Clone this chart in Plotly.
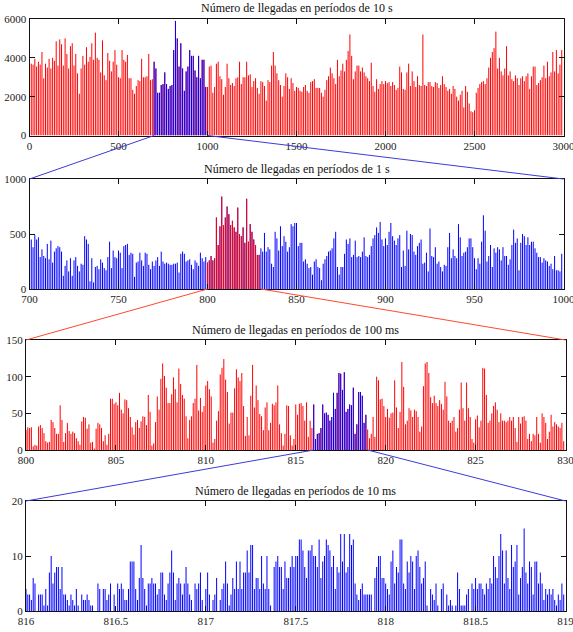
import numpy as np
import plotly.graph_objects as go

# ---------------- data ----------------
# Panel 1: arrivals per 10 s period, t = 0 .. 2990 s
p1_start, p1_step = 0, 10
p1_values = [
    4150, 3700, 3650, 3950, 3550, 3800, 3650, 4300, 2950, 3700,
    3500, 3950, 3450, 4000, 3850, 4850, 3600, 4950, 4700, 3600,
    5000, 4200, 3450, 4600, 4750, 3600, 4200, 3200, 2150, 3450,
    4100, 3650, 4550, 3800, 4050, 4750, 3900, 5300, 4000, 3900,
    3250, 4900, 3100, 2850, 4250, 3850, 3300, 3800, 4400, 3650,
    3000, 2950, 4400, 3900, 3800, 4150, 2950, 2950, 2350, 2150,
    2550, 2850, 2800, 3950, 3000, 3000, 3050, 4200, 2850, 2900,
    3800, 3450, 2200, 2200, 2600, 2650, 3250, 2650, 2400, 2550,
    2600, 4400, 5900, 5000, 3550, 4750, 3450, 2300, 3300, 3550,
    4400, 4100, 4100, 3350, 3000, 4100, 2950, 3900, 3900, 2500,
    2500, 3550, 3600, 2200, 2500, 3700, 3800, 3050, 2900, 2100,
    2500, 3700, 2950, 2600, 2700, 2550, 2950, 3000, 3800, 2650,
    3000, 3000, 3800, 3100, 3150, 2500, 2800, 2950, 2450, 2150,
    2800, 2750, 2550, 1800, 2850, 2750, 3600, 4300, 3600, 3200,
    2850, 2600, 2000, 2550, 3200, 3000, 2400, 2950, 2700, 2300,
    2500, 2450, 2300, 2250, 2500, 2600, 2300, 2200, 2750, 2800,
    2900, 2450, 2450, 2450, 2200, 2000, 2350, 2850, 3050, 3500,
    3200, 2950, 2650, 3900, 3050, 3350, 3700, 3300, 3900, 4350,
    5200, 4100, 2900, 3300, 3600, 3600, 3300, 3500, 3250, 3050,
    2950, 2800, 3750, 2550, 2250, 2900, 2400, 2650, 2800, 2650,
    2800, 2700, 2750, 2550, 2750, 2600, 2350, 2450, 3550, 3250,
    2400, 2350, 3250, 3700, 2550, 3300, 2800, 2500, 3050, 2600,
    2550, 5200, 2600, 2550, 2750, 2750, 2550, 2500, 2750, 2700,
    2450, 2600, 3050, 2650, 2500, 2300, 2400, 2150, 2550, 2400,
    2000, 1800, 2100, 2300, 1450, 2550, 2250, 1650, 1250, 1200,
    1300, 2200, 2450, 2650, 2750, 2800, 2650, 2950, 3500, 4000,
    4300, 4500, 5350, 3450, 4000, 3300, 3100, 3450, 4600, 3100,
    3300, 2900, 2800, 3100, 2950, 2600, 2950, 3050, 2800, 3050,
    3200, 2400, 3050, 3550, 3550, 2600, 2700, 2850, 3000, 3600,
    2950, 3800, 3050, 3250, 4300, 3300, 4400, 3200, 3650, 4400,
]
p1_zoom = (700, 1000)

# Panel 2: arrivals per 1 s period, t = 700 .. 999 s
p2_start, p2_step = 700, 1
p2_values = [
    320, 450, 380, 490, 450, 470, 290, 360, 300, 280,
    410, 270, 440, 240, 340, 370, 390, 380, 340, 120,
    210, 260, 160, 280, 120, 260, 290, 210, 160, 230,
    220, 480, 450, 410, 70, 280, 60, 200, 210, 180,
    270, 240, 190, 170, 290, 430, 190, 350, 290, 280,
    350, 330, 190, 390, 400, 410, 310, 330, 320, 110,
    240, 250, 330, 260, 210, 330, 320, 220, 180, 250,
    210, 260, 290, 210, 340, 250, 230, 240, 230, 220,
    220, 230, 230, 240, 150, 320, 340, 320, 250, 260,
    270, 220, 180, 260, 240, 210, 330, 280, 250, 290,
    240, 260, 300, 260, 280, 650, 400, 570, 840, 580,
    650, 750, 680, 580, 620, 560, 520, 740, 500, 480,
    560, 420, 820, 430, 590, 520, 450, 400, 310, 310,
    370, 340, 510, 340, 380, 360, 230, 200, 520, 460,
    350, 570, 390, 480, 430, 340, 380, 590, 570, 600,
    600, 390, 420, 420, 250, 270, 230, 190, 200, 130,
    250, 270, 200, 190, 80, 230, 270, 300, 340, 350,
    370, 460, 520, 200, 130, 200, 200, 320, 450, 410,
    460, 290, 310, 440, 290, 300, 290, 340, 470, 300,
    290, 310, 390, 460, 490, 560, 510, 610, 450, 390,
    460, 400, 520, 600, 480, 440, 400, 460, 490, 200,
    350, 210, 530, 360, 500, 490, 340, 310, 390, 420,
    450, 230, 240, 330, 160, 550, 300, 290, 380, 230,
    250, 200, 160, 220, 210, 380, 510, 280, 360, 300,
    280, 590, 470, 300, 330, 340, 380, 460, 460, 380,
    280, 180, 280, 230, 430, 670, 530, 250, 300, 400,
    200, 370, 330, 380, 360, 260, 380, 300, 300, 220,
    270, 400, 540, 420, 460, 170, 420, 500, 480, 400,
    470, 400, 430, 430, 370, 330, 290, 290, 240, 280,
    260, 250, 210, 230, 180, 300, 170, 170, 160, 320,
]
p2_zoom = (800, 830)

# Panel 3: arrivals per 100 ms period, t = 800.0 .. 829.9 s
p3_start, p3_step = 800, 0.1
p3_values = [
    27, 31, 30, 31, 5, 7, 6, 32, 34, 30,
    23, 12, 10, 11, 41, 38, 30, 22, 22, 61,
    41, 11, 23, 37, 26, 22, 25, 23, 16, 12,
    7, 39, 45, 44, 29, 35, 10, 11, 2, 29,
    37, 35, 30, 12, 20, 7, 22, 70, 70, 63,
    65, 61, 78, 55, 50, 69, 68, 57, 45, 31,
    21, 38, 41, 30, 39, 46, 45, 34, 75, 52,
    6, 9, 38, 73, 55, 97, 118, 101, 85, 64,
    64, 76, 99, 83, 65, 111, 90, 75, 70, 46,
    16, 41, 46, 64, 70, 116, 54, 71, 52, 60,
    88, 94, 83, 73, 10, 15, 40, 53, 103, 112,
    124, 96, 79, 36, 51, 51, 84, 110, 99, 94,
    105, 60, 19, 45, 20, 74, 116, 58, 88, 68,
    49, 46, 27, 58, 65, 27, 37, 63, 61, 65,
    88, 35, 23, 6, 22, 61, 60, 20, 6, 15,
    62, 48, 63, 64, 60, 40, 65, 18, 40, 30,
    62, 15, 22, 23, 30, 62, 50, 51, 48, 40,
    45, 78, 56, 78, 105, 104, 82, 106, 52, 56,
    62, 61, 85, 22, 35, 79, 79, 74, 37, 48,
    28, 16, 22, 45, 18, 100, 95, 69, 70, 60,
    45, 56, 44, 50, 51, 95, 58, 30, 52, 120,
    86, 35, 40, 57, 54, 45, 55, 53, 45, 25,
    32, 87, 118, 120, 105, 72, 64, 74, 64, 60,
    68, 63, 55, 93, 73, 40, 37, 40, 45, 25,
    30, 55, 92, 57, 40, 92, 57, 45, 15, 10,
    42, 47, 31, 40, 112, 111, 75, 37, 40, 50,
    60, 65, 55, 38, 50, 40, 40, 38, 40, 45,
    40, 45, 30, 11, 45, 36, 45, 46, 40, 15,
    22, 12, 22, 20, 45, 22, 10, 50, 45, 37,
    15, 25, 48, 32, 38, 35, 32, 30, 37, 12,
]
p3_zoom = (816, 819)

# Panel 4: arrivals per 10 ms period, t = 816.00 .. 818.99 s
p4_start, p4_step = 816, 0.01
p4_values = [
    4, 3, 3, 2, 6, 5, 0, 3, 3,
    3, 1, 4, 1, 7, 10, 5, 7, 8,
    8, 4, 8, 3, 3, 2, 1, 3, 2,
    1, 4, 1, 0, 3, 2, 2, 3, 2,
    1, 1, 0, 0, 5, 4, 0, 4, 4,
    2, 3, 5, 0, 3, 0, 5, 4, 5,
    4, 2, 2, 4, 9, 9, 9, 4, 2,
    6, 12, 6, 4, 1, 5, 5, 6, 5,
    5, 3, 4, 7, 7, 3, 2, 5, 7,
    11, 7, 2, 5, 6, 5, 3, 5, 8,
    5, 3, 2, 0, 5, 4, 5, 7, 2,
    0, 4, 7, 3, 0, 2, 3, 6, 0,
    2, 4, 5, 9, 5, 1, 3, 6, 4, 9,
    4, 9, 4, 7, 7, 11, 7, 12, 12, 4,
    6, 6, 4, 10, 5, 4, 10, 4, 1, 0,
    8, 9, 10, 8, 8, 4, 9, 6, 6, 8,
    10, 8, 10, 10, 13,
    13, 11, 8, 6, 11, 11, 12, 10, 10,
    8, 13, 6, 9, 10, 13, 12, 11, 8,
    10, 4, 8, 7, 14, 9, 14, 7, 8,
    14, 12, 13, 5, 3, 2, 4, 5, 3,
    3, 3, 3, 3, 0, 6, 8, 10, 10,
    6, 6, 5, 4, 3, 9, 11, 5, 8,
    7, 13, 13, 5, 4, 9, 7, 10, 9,
    4, 10, 11, 8, 5, 6, 9, 1, 0,
    4, 3, 2, 5, 1, 0, 4, 5, 0,
    3, 1, 2, 1, 0, 1, 7, 4, 1,
    1, 1, 3, 4, 0, 5, 4, 6, 4,
    5, 5, 4, 3, 5, 4, 6, 5, 10,
    8, 6, 10, 14, 11, 5, 11, 6, 4, 12,
    8, 9, 12, 3, 6, 8, 15, 7, 5, 9,
    8, 3, 9, 9, 5, 7, 5, 2, 4, 3,
    4, 3, 4, 2, 1, 3, 2, 5, 3,
]

titles = [
    "Número de llegadas en períodos de 10 s",
    "Número de llegadas en períodos de 1 s",
    "Número de llegadas en períodos de 100 ms",
    "Número de llegadas en períodos de 10 ms",
]
x_ranges = [(0, 3000), (700, 1000), (800, 830), (816, 819)]
y_ranges = [(0, 6000), (0, 1000), (0, 150), (0, 20)]
x_ticks = [
    [0, 500, 1000, 1500, 2000, 2500, 3000],
    [700, 750, 800, 850, 900, 950, 1000],
    [800, 805, 810, 815, 820, 825, 830],
    [816, 816.5, 817, 817.5, 818, 818.5, 819],
]
y_ticks = [
    [0, 2000, 4000, 6000],
    [0, 500, 1000],
    [0, 50, 100, 150],
    [0, 10, 20],
]

# ---------------- styling ----------------
W, H = 573, 632
RED = "#ff0000"
BLUE = "#0000ff"
panels_px = [  # left, right, top, bottom in pixels
    (29.5, 563.5, 19, 135.5),
    (29.5, 563.5, 179, 289),
    (26, 565.5, 340, 450),
    (26, 565.5, 501, 611),
]
title_y_px = [8, 169, 330, 491]
FONT = "Liberation Serif, Times New Roman, serif"


def impulses(xs, vs):
    X, Y = [], []
    for x, v in zip(xs, vs):
        X += [x, x, None]
        Y += [0, v, None]
    return X, Y


def xs_of(start, step, vals):
    return [round(start + step * i, 4) for i in range(len(vals))]


series = [
    (p1_start, p1_step, p1_values, RED, p1_zoom, BLUE),
    (p2_start, p2_step, p2_values, BLUE, p2_zoom, RED),
    (p3_start, p3_step, p3_values, RED, p3_zoom, BLUE),
    (p4_start, p4_step, p4_values, BLUE, None, None),
]

fig = go.Figure()
layout = dict(
    width=W, height=H, margin=dict(l=0, r=0, t=0, b=0, pad=0, autoexpand=False),
    paper_bgcolor="white", plot_bgcolor="white", showlegend=False,
    font=dict(family=FONT, size=11, color="#222"),
)

annotations = []
shapes = []
for k, (start, step, vals, col, zr, zcol) in enumerate(series):
    n = k + 1
    xa = "x" if n == 1 else f"x{n}"
    ya = "y" if n == 1 else f"y{n}"
    xs = xs_of(start, step, vals)
    X, Y = impulses(xs, vals)
    fig.add_trace(go.Scatter(x=X, y=Y, mode="lines", line=dict(color=col, width=1),
                             xaxis=xa, yaxis=ya, hoverinfo="skip"))
    if zr is not None:
        sub = [(x, v) for x, v in zip(xs, vals) if zr[0] - 1e-9 <= x < zr[1] - 1e-9]
        X2, Y2 = impulses([s[0] for s in sub], [s[1] for s in sub])
        fig.add_trace(go.Scatter(x=X2, y=Y2, mode="lines", line=dict(color=zcol, width=1),
                                 xaxis=xa, yaxis=ya, hoverinfo="skip"))
    l, r, t, b = panels_px[k]
    axcommon = dict(showline=True, linecolor="#111", linewidth=1, mirror="ticks",
                    ticks="inside", ticklen=5, tickcolor="#111", tickwidth=1,
                    showgrid=False, zeroline=False, automargin=False,
                    ticklabeloverflow="allow",
                    tickfont=dict(family=FONT, size=11, color="#222"))
    layout["xaxis" if n == 1 else f"xaxis{n}"] = dict(
        domain=[l / W, r / W], anchor=ya, range=list(x_ranges[k]),
        tickmode="array", tickvals=x_ticks[k],
        ticktext=[f"{v:g}" for v in x_ticks[k]], **axcommon)
    layout["yaxis" if n == 1 else f"yaxis{n}"] = dict(
        domain=[1 - b / H, 1 - t / H], anchor=xa, range=list(y_ranges[k]),
        tickmode="array", tickvals=y_ticks[k], **axcommon)
    annotations.append(dict(text=titles[k], x=(l + r) / 2 / W, y=1 - title_y_px[k] / H,
                            xref="paper", yref="paper", showarrow=False,
                            xanchor="center", yanchor="middle",
                            font=dict(family=FONT, size=12, color="#111")))

# zoom connector lines (from zoom interval on panel k to top corners of panel k+1)
conn_colors = ["#3b3bd6", "#ff4a2a", "#3b3bd6"]
for k, zr in enumerate([p1_zoom, p2_zoom, p3_zoom]):
    l, r, t, b = panels_px[k]
    x0r, x1r = x_ranges[k]
    nl, nr, nt, nb = panels_px[k + 1]
    for zv, target in ((zr[0], nl), (zr[1], nr)):
        px = l + (zv - x0r) / (x1r - x0r) * (r - l)
        shapes.append(dict(type="line", xref="paper", yref="paper",
                           x0=px / W, y0=1 - b / H, x1=target / W, y1=1 - nt / H,
                           line=dict(color=conn_colors[k], width=1)))

layout["annotations"] = annotations
layout["shapes"] = shapes
fig.update_layout(**layout)
fig.write_html("out.html", config={"displayModeBar": False, "staticPlot": True},
               post_script="document.body.style.margin='0';document.body.style.overflow='hidden';")
